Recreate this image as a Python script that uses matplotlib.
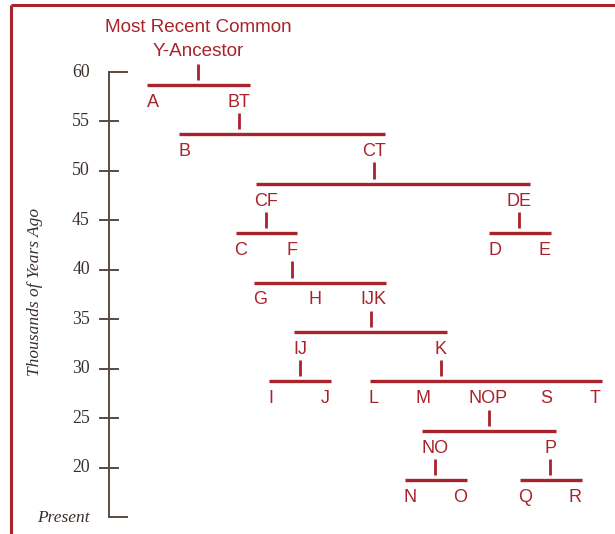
import matplotlib
matplotlib.use("Agg")
import matplotlib.pyplot as plt

# ---- data ----
tick_values = [60, 55, 50, 45, 40, 35, 30, 25, 20]
tick_labels = ["60", "55", "50", "45", "40", "35", "30", "25", "20"]
present_value = 15
present_label = "Present"
y_label = "Thousands of Years Ago"
title_lines = ["Most Recent Common", "Y-Ancestor"]

parents = ["MRCA", "BT", "CT", "CF", "DE", "F", "IJK", "IJ", "K", "NOP", "NO", "P"]
parent_x = [198, 239, 374, 266, 519, 292, 371, 300, 441, 489, 435, 550]
bar_level = [58.7, 53.7, 48.7, 43.7, 43.7, 38.7, 33.7, 28.75, 28.75, 23.7, 18.7, 18.7]
bar_left = [147, 179, 256, 236, 489, 254, 294, 269, 370, 422, 405, 520]
bar_right = [250, 385, 530, 297, 551, 386, 447, 331, 602, 556, 467, 582]
child_labels = [["A", "BT"], ["B", "CT"], ["CF", "DE"], ["C", "F"], ["D", "E"],
                ["G", "H", "IJK"], ["IJ", "K"], ["I", "J"],
                ["L", "M", "NOP", "S", "T"], ["NO", "P"], ["N", "O"], ["Q", "R"]]
child_x = [[153, 239], [185, 374], [266, 519], [241, 292], [495, 545],
           [260, 315, 373], [300, 441], [271, 325],
           [374, 423, 488, 546, 595], [435, 550], [410, 460], [525, 575]]

# ---- style ----
RED = "#a8232c"
AXC = "#5b4a40"
TXT = "#3b2f2a"
px_per_unit = 9.889
W, H = 615, 534

fig = plt.figure(figsize=(W / 100, H / 100), dpi=100)
ax = fig.add_axes([0, 0, 1, 1])
ax.set_xlim(0, W)
ytop = 60 + 72 / px_per_unit
ybot = 60 - (H - 72) / px_per_unit
ax.set_ylim(ybot, ytop)
ax.axis("off")

def py(p):
    return 60 - (p - 72) / px_per_unit

# frame lines (top and left)
ax.plot([11, W], [py(5), py(5)], color=RED, lw=2.2, solid_capstyle="butt")
ax.plot([11, 11], [py(5), ybot], color=RED, lw=2.2, solid_capstyle="butt")

# axis
axis_x = 109
ax.plot([axis_x, axis_x], [present_value, tick_values[0]], color=AXC, lw=1.4)
for v, lab in zip(tick_values, tick_labels):
    if v == tick_values[0]:
        ax.plot([axis_x, axis_x + 18], [v, v], color=AXC, lw=1.4)
    else:
        ax.plot([axis_x - 9, axis_x + 9], [v, v], color=AXC, lw=1.4)
    ax.text(90, v, lab, ha="right", va="center", color=TXT,
            family="Liberation Serif", fontsize=12.8)
ax.plot([axis_x, axis_x + 18], [present_value, present_value], color=AXC, lw=1.4)
ax.text(90, present_value - 0.1, present_label, ha="right", va="center", color=TXT,
        family="Liberation Serif", style="italic", fontsize=12.5)
ax.text(35, py(292), y_label, ha="center", va="center", rotation=90, color=TXT,
        family="Liberation Serif", style="italic", fontsize=12.5)

# title
lab_font = dict(family="Liberation Sans", fontsize=13.0, color=RED)
ax.text(198, py(28), title_lines[0], ha="center", va="center",
        family="Liberation Sans", fontsize=13.6, color=RED)
ax.text(198, py(52), title_lines[1], ha="center", va="center",
        family="Liberation Sans", fontsize=13.6, color=RED)

# tree
for px_, lvl, xl, xr, labs, cxs in zip(parent_x, bar_level, bar_left, bar_right,
                                       child_labels, child_x):
    ax.plot([xl, xr], [lvl, lvl], color=RED, lw=2.4, solid_capstyle="butt")
    ax.plot([px_, px_], [lvl + 0.5, lvl + 2.15], color=RED, lw=2.0,
            solid_capstyle="butt")
    for lab, cx in zip(labs, cxs):
        ax.text(cx, lvl - 1.75, lab, ha="center", va="center", **lab_font)

fig.savefig("out.png", dpi=100)
